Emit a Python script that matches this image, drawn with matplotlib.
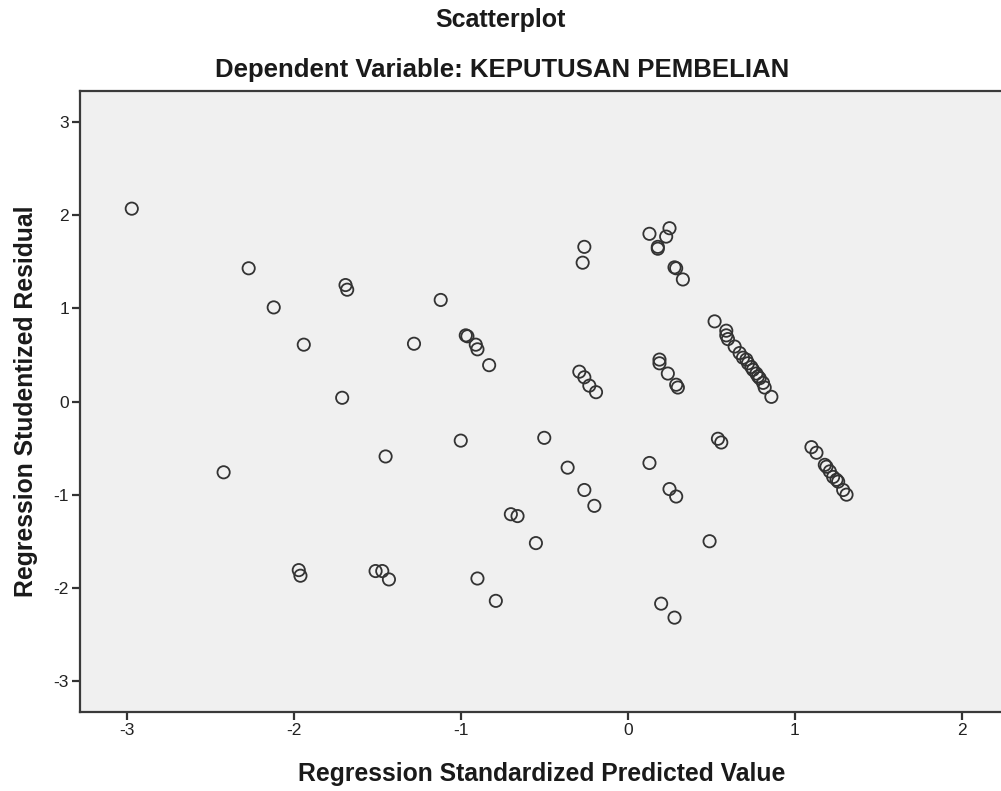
import matplotlib
matplotlib.use("Agg")
import matplotlib.pyplot as plt

plt.rcParams['font.family'] = ['Liberation Sans', 'DejaVu Sans']

# Regression standardized predicted value (x) and studentized residual (y)
pred = [-2.97, -2.27, -2.12, -1.94, -1.69, -1.68, -1.71, -2.42,
        -1.12, -1.28, -0.97, -0.96, -0.91, -0.90, -0.83, -1.00, -1.45,
        -1.97, -1.96, -1.51, -1.47, -1.43, -0.90, -0.79,
        -0.70, -0.66, -0.55, -0.50, -0.36, -0.26, -0.20,
        -0.29, -0.26, -0.23, -0.19, -0.26, -0.27,
        0.13, 0.25, 0.29, 0.20, 0.28, 0.49, 0.54, 0.56,
        0.13, 0.25, 0.23, 0.18, 0.18, 0.28, 0.29, 0.33,
        0.19, 0.19, 0.24, 0.29, 0.30,
        0.52, 0.59, 0.59, 0.60, 0.64, 0.67, 0.69, 0.71, 0.72, 0.74, 0.75,
        0.77, 0.78, 0.79, 0.81, 0.82, 0.86,
        1.10, 1.13, 1.18, 1.19, 1.21, 1.23, 1.25, 1.26, 1.29, 1.31]
resid = [2.07, 1.43, 1.01, 0.61, 1.25, 1.20, 0.04, -0.76,
         1.09, 0.62, 0.71, 0.70, 0.61, 0.56, 0.39, -0.42, -0.59,
         -1.81, -1.87, -1.82, -1.82, -1.91, -1.90, -2.14,
         -1.21, -1.23, -1.52, -0.39, -0.71, -0.95, -1.12,
         0.32, 0.26, 0.17, 0.10, 1.66, 1.49,
         -0.66, -0.94, -1.02, -2.17, -2.32, -1.50, -0.40, -0.44,
         1.80, 1.86, 1.77, 1.66, 1.64, 1.44, 1.43, 1.31,
         0.45, 0.41, 0.30, 0.18, 0.15,
         0.86, 0.76, 0.71, 0.67, 0.59, 0.52, 0.47, 0.45, 0.41, 0.37, 0.34,
         0.30, 0.27, 0.25, 0.20, 0.15, 0.05,
         -0.49, -0.55, -0.68, -0.70, -0.75, -0.81, -0.84, -0.86, -0.95, -1.00]

xticks = [-3, -2, -1, 0, 1, 2]
yticks = [-3, -2, -1, 0, 1, 2, 3]

W, H = 1001, 791
fig = plt.figure(figsize=(W / 100, H / 100), dpi=100)
left, right, top, bottom = 80, 1003, 91, 712
ax = fig.add_axes([left / W, 1 - bottom / H, (right - left) / W, (bottom - top) / H])
ax.set_facecolor('#f0f0f0')

ax.scatter(pred, resid, s=78, facecolors='none', edgecolors='#333333',
           linewidths=1.3, zorder=3)

ax.set_xlim(-3.28, 2.247)
ax.set_ylim(-3.333, 3.333)
ax.set_xticks(xticks)
ax.set_yticks(yticks)
ax.set_xticklabels([str(t) for t in xticks])
ax.set_yticklabels([str(t) for t in yticks])
ax.tick_params(axis='both', direction='out', length=6, width=1.6,
               color='#333333', labelsize=12.5, labelcolor='#222222', pad=2)
ax.spines['right'].set_visible(False)
for s in ['left', 'bottom', 'top']:
    ax.spines[s].set_color('#3a3a3a')
    ax.spines[s].set_linewidth(1.6)

ax.set_xlabel('Regression Standardized Predicted Value', fontsize=17.8,
              fontweight='bold', color='#1a1a1a', labelpad=17)
ax.set_ylabel('Regression Studentized Residual', fontsize=17.8,
              fontweight='bold', color='#1a1a1a', labelpad=11)

fig.text(500 / W, 1 - 20 / H, 'Scatterplot', ha='center', va='center',
         fontsize=18, fontweight='bold', color='#1a1a1a')
fig.text(502 / W, 1 - 70 / H, 'Dependent Variable: KEPUTUSAN PEMBELIAN',
         ha='center', va='center', fontsize=18.5, fontweight='bold', color='#1a1a1a')

fig.savefig('out.png', dpi=100, facecolor='white')
